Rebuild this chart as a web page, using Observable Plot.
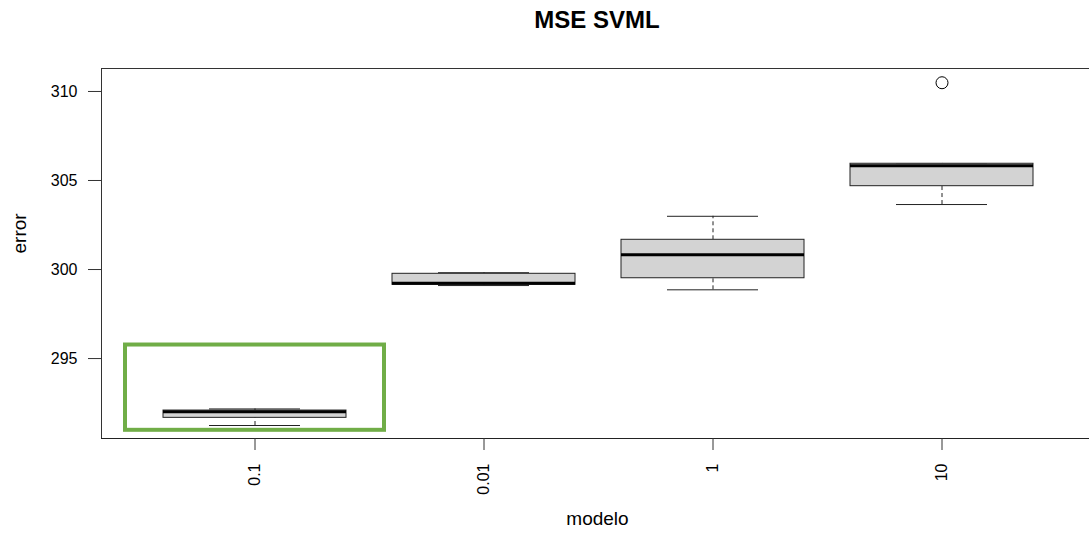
<!DOCTYPE html>
<html>
<head>
<meta charset="utf-8">
<script src="https://cdn.jsdelivr.net/npm/d3@7"></script>
<script src="https://cdn.jsdelivr.net/npm/@observablehq/plot@0.6"></script>
<style>
  html, body { margin: 0; padding: 0; background: white; overflow: hidden; }
  #title { width: 1089px; height: 40px; line-height: 40px; box-sizing: border-box; padding-left: 105px; text-align: center;
           font-family: "Liberation Sans", Arial, sans-serif; font-weight: bold; font-size: 24px; color: #000; }
</style>
</head>
<body>
<div id="title">MSE SVML</div>
<div id="chart"></div>
<script>
const categories   = ["0.1", "0.01", "1", "10"];
const lowerWhisker = [291.24, 299.10, 298.86, 303.65];
const q1           = [291.67, 299.14, 299.51, 304.68];
const median       = [292.01, 299.23, 300.83, 305.83];
const q3           = [292.08, 299.76, 301.67, 305.94];
const upperWhisker = [292.17, 299.82, 302.99, 305.94];
const outlierModel = ["10"];
const outlierValue = [310.49];
const yTicks = [295, 300, 305, 310];
// highlight annotation (green box around model 0.1)
const highlightModel = ["0.1"];
const highlightLow = [290.97];
const highlightHigh = [295.76];

const boxes = categories.map((c, i) => ({
  modelo: c, lo: lowerWhisker[i], q1: q1[i], med: median[i], q3: q3[i], hi: upperWhisker[i]
}));
const outliers = outlierModel.map((m, i) => ({modelo: m, error: outlierValue[i]}));
const highlight = highlightModel.map((m, i) => ({modelo: m, y1: highlightLow[i], y2: highlightHigh[i]}));

const chart = Plot.plot({
  width: 1089,
  height: 496,
  marginTop: 28,
  marginBottom: 98,
  marginLeft: 101,
  marginRight: 0,
  style: {fontFamily: "'Liberation Sans', Arial, sans-serif", fontSize: "16px", color: "#000", background: "white"},
  x: {domain: categories, range: [101, 1095], paddingInner: 0.2, paddingOuter: 0.261, align: 0.5},
  y: {domain: [290.51, 311.29]},
  marks: [
    Plot.frame({anchor: "top", stroke: "#333"}),
    Plot.frame({anchor: "left", stroke: "#333"}),
    Plot.frame({anchor: "bottom", stroke: "#222"}),
    Plot.axisY({ticks: yTicks, tickSize: 13, tickPadding: 11, fontSize: 16, label: null, stroke: "#333"}),
    Plot.axisX({tickSize: 12, tickPadding: 13, tickRotate: -90, fontSize: 16, label: null, stroke: "#333"}),
    Plot.text(["error"], {text: d => d, frameAnchor: "left", dx: -82, rotate: -90, fontSize: 19}),
    Plot.text(["modelo"], {text: d => d, frameAnchor: "bottom", dx: 2, dy: 86, fontSize: 19}),
    // whiskers (dashed)
    Plot.ruleX(boxes, {x: "modelo", y1: "lo", y2: "q1", stroke: "#222", strokeDasharray: "4,3"}),
    Plot.ruleX(boxes, {x: "modelo", y1: "q3", y2: "hi", stroke: "#222", strokeDasharray: "4,3"}),
    // caps
    Plot.tickY(boxes, {x: "modelo", y: "lo", stroke: "#222", insetLeft: 46, insetRight: 46}),
    Plot.tickY(boxes, {x: "modelo", y: "hi", stroke: "#222", insetLeft: 46, insetRight: 46}),
    // boxes
    Plot.barY(boxes, {x: "modelo", y1: "q1", y2: "q3", fill: "#d3d3d3", stroke: "#222", strokeWidth: 1}),
    // medians
    Plot.tickY(boxes, {x: "modelo", y: "med", stroke: "#000", strokeWidth: 3}),
    // outliers
    Plot.dot(outliers, {x: "modelo", y: "error", r: 6, stroke: "#000", fill: "none", strokeWidth: 1}),
    // green highlight annotation
    Plot.barY(highlight, {x: "modelo", y1: "y1", y2: "y2", fill: "none", stroke: "#70AD47", strokeWidth: 4, insetLeft: -38, insetRight: -38})
  ]
});
document.getElementById("chart").appendChild(chart);
</script>
</body>
</html>
